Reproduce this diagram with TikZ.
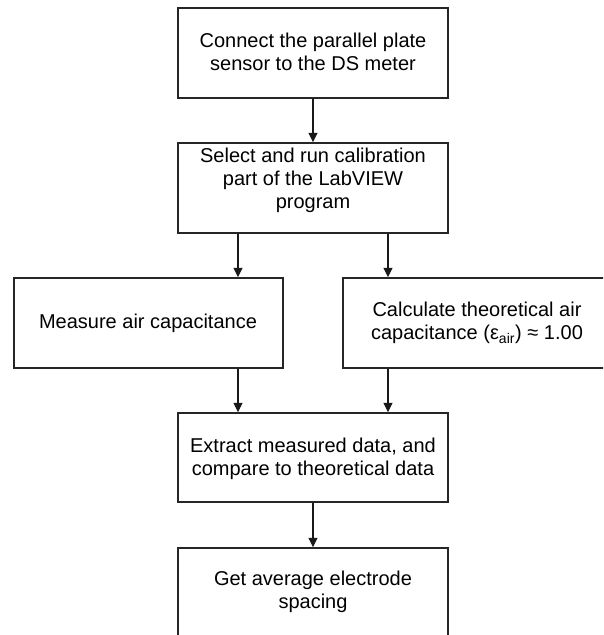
\documentclass[tikz,border=0pt]{standalone}
\usepackage{fontspec}
\setmainfont{Liberation Sans}
\usetikzlibrary{arrows.meta}
\tikzset{
  stepbox/.style={draw=black!85, line width=1.1pt, rectangle, minimum width=270*0.75pt, minimum height=90*0.75pt, inner sep=0pt},
  boxtext/.style={align=center, font=\fontsize{15pt}{17.25pt}\selectfont, inner sep=0pt},
  flow/.style={draw=black!90, line width=0.8pt, -{Triangle[length=7pt,width=6.6pt]}}
}
\begin{document}
\begin{tikzpicture}[x=0.75pt,y=-0.75pt]
\useasboundingbox (0,0) rectangle (603,635);
\clip (0,0) rectangle (603,635);
\node[stepbox] (b1) at (313,53) {};
\node[boxtext] at (313,52) {Connect the parallel plate\\sensor to the DS meter};
\node[stepbox] (b2) at (313,188) {};
\node[boxtext] at (313,180) {Select and run calibration\\part of the LabVIEW\\program};
\node[stepbox, minimum width=269*0.75pt] (b3) at (148.5,323) {};
\node[boxtext] at (148,323) {Measure air capacitance};
\node[stepbox, minimum width=269*0.75pt] (b4) at (477.5,323) {};
\node[boxtext] at (477,323) {Calculate theoretical air\\capacitance (ε\textsubscript{air}) ≈ 1.00};
\node[stepbox, minimum height=89*0.75pt] (b5) at (313,457.5) {};
\node[boxtext] at (313,458.5) {Extract measured data, and\\compare to theoretical data};
\node[stepbox] (b6) at (313,593) {};
\node[boxtext] at (313,592) {Get average electrode\\spacing};
\draw[flow] (b1.south) -- (b2.north);
\draw[flow] (b2.south -| 238,0) -- (b3.north -| 238,0);
\draw[flow] (b2.south -| 388,0) -- (b4.north -| 388,0);
\draw[flow] (b3.south -| 238,0) -- (b5.north -| 238,0);
\draw[flow] (b4.south -| 388,0) -- (b5.north -| 388,0);
\draw[flow] (b5.south) -- (b6.north);
\end{tikzpicture}
\end{document}
